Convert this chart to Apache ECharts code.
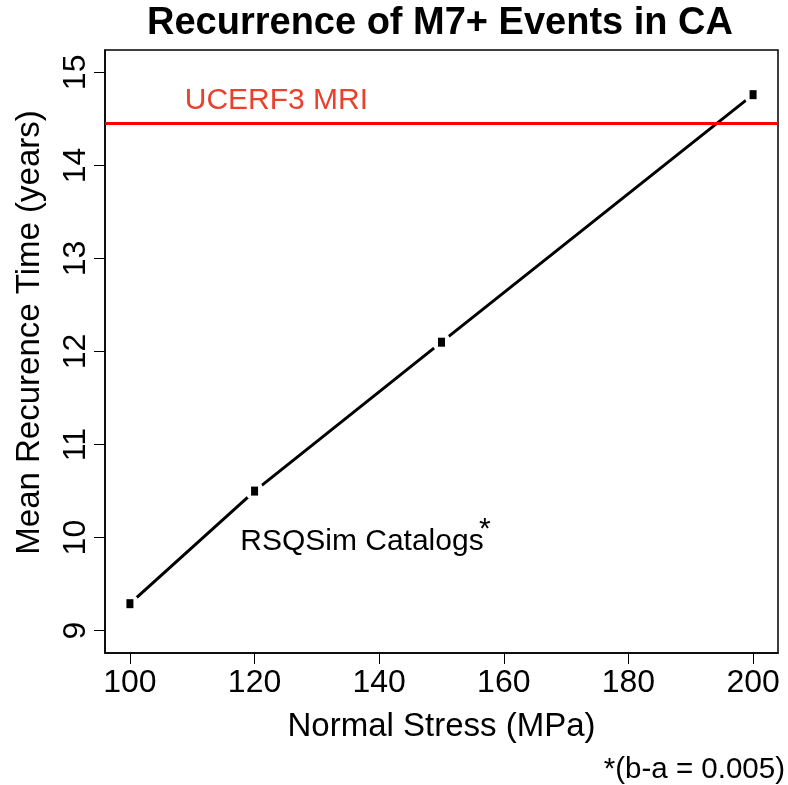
<!DOCTYPE html>
<html><head><meta charset="utf-8">
<script src="https://cdn.jsdelivr.net/npm/echarts@6/dist/echarts.min.js"></script>
<style>html,body{margin:0;padding:0;background:#fff}#c{width:788px;height:785px}</style>
</head><body><div id="c"></div>
<script>
// ---- data ----
const stress = [100, 120, 150, 200];            // Normal Stress (MPa)
const recurrence = [9.29, 10.50, 12.10, 14.76]; // Mean recurrence time (years)
const ucerf3MRI = 14.45;
const xTicks = [100, 120, 140, 160, 180, 200];
const yTicks = [9, 10, 11, 12, 13, 14, 15];
const xRange = [96, 204];
const yRange = [8.76, 15.24];

const pts = stress.map((s, i) => [s, recurrence[i]]);
const FONT = '"Liberation Sans", Arial, Helvetica, sans-serif';
const chart = echarts.init(document.getElementById('c'), null, {renderer: 'canvas'});

chart.setOption({
  animation: false,
  backgroundColor: '#fff',
  title: {
    text: 'Recurrence of M7+ Events in CA', left: 440, top: 5, padding: 0, textAlign: 'center',
    textStyle: {fontFamily: FONT, fontSize: 38, fontWeight: 'bold', color: '#000'}
  },
  grid: {left: 105, right: 10, top: 50, bottom: 132, show: true, borderColor: '#000', borderWidth: 1.5, backgroundColor: 'transparent'},
  xAxis: {
    type: 'value', min: xRange[0], max: xRange[1],
    name: 'Normal Stress (MPa)', nameLocation: 'middle', nameGap: 57,
    nameTextStyle: {fontFamily: FONT, fontSize: 33, color: '#000'},
    splitLine: {show: false},
    axisLine: {show: true, onZero: false, lineStyle: {color: '#000', width: 1.5}},
    axisTick: {show: true, inside: false, length: 11, customValues: xTicks, lineStyle: {color: '#000', width: 1}},
    axisLabel: {customValues: xTicks, fontFamily: FONT, fontSize: 32, color: '#000', margin: 14}
  },
  yAxis: {
    type: 'value', min: yRange[0], max: yRange[1],
    name: 'Mean Recurence Time (years)', nameLocation: 'middle', nameGap: 59, nameRotate: 90,
    nameTextStyle: {fontFamily: FONT, fontSize: 33, color: '#000', padding: [0, 0, 0, 38]},
    splitLine: {show: false},
    axisLine: {show: true, onZero: false, lineStyle: {color: '#000', width: 1.5}},
    axisTick: {show: true, inside: false, length: 11, customValues: yTicks, lineStyle: {color: '#000', width: 1}},
    axisLabel: {customValues: yTicks, fontFamily: FONT, fontSize: 32, color: '#000', margin: 13, rotate: 90}
  },
  series: [
    {
      type: 'line', data: pts, showSymbol: false, symbol: 'none', z: 2, silent: true,
      lineStyle: {color: '#000', width: 3},
      markLine: {
        silent: true, symbol: ['none', 'none'], label: {show: false},
        lineStyle: {color: '#ff0000', width: 3, type: 'solid'},
        data: [{yAxis: ucerf3MRI}]
      }
    },
    {
      type: 'scatter', data: pts, symbol: 'circle', symbolSize: 19, z: 3, silent: true,
      itemStyle: {color: '#fff', opacity: 1}
    },
    {
      type: 'scatter', data: pts, symbol: 'rect', symbolSize: [7, 9], z: 4, silent: true,
      itemStyle: {color: '#000', opacity: 1}
    },
    {
      type: 'scatter', symbolSize: 0, z: 5, silent: true,
      itemStyle: {opacity: 1},
      label: {show: true, position: 'right', distance: 0, fontFamily: FONT, fontSize: 30, color: '#000', opacity: 1},
      data: [
        {value: [108.8, 14.694], label: {formatter: 'UCERF3 MRI', color: '#e8412c'}},
        {value: [117.7, 9.96], label: {formatter: 'RSQSim Catalogs'}},
        {value: [156.0, 10.08], label: {formatter: '*'}}
      ]
    }
  ],
  graphic: [
    {type: 'text', right: 3, top: 755, style: {text: '*(b-a = 0.005)', font: '29.5px ' + FONT, fill: '#000'}}
  ]
});
</script></body></html>
